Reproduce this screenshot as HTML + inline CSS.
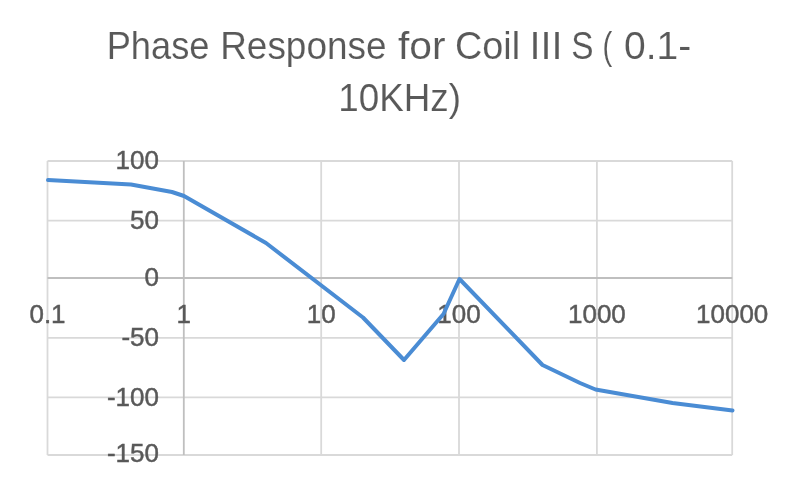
<!DOCTYPE html>
<html><head><meta charset="utf-8">
<style>
html,body{margin:0;padding:0;background:#fff;}
body{width:800px;height:490px;overflow:hidden;}
svg{display:block;filter:blur(0.35px);}
text{font-family:"Liberation Sans",sans-serif;fill:#595959;}
</style></head>
<body>
<svg width="800" height="490" viewBox="0 0 800 490">
<rect x="0" y="0" width="800" height="490" fill="#fff"/>
<g stroke="#d9d9d9" stroke-width="1.8" fill="none">
<line x1="47.5" y1="161" x2="732.2" y2="161"/>
<line x1="47.5" y1="220.6" x2="732.2" y2="220.6"/>
<line x1="47.5" y1="337.8" x2="732.2" y2="337.8"/>
<line x1="47.5" y1="397.4" x2="732.2" y2="397.4"/>
<line x1="47.5" y1="455" x2="732.2" y2="455"/>
<line x1="47.5" y1="161" x2="47.5" y2="455"/>
<line x1="321.2" y1="161" x2="321.2" y2="455"/>
<line x1="459" y1="161" x2="459" y2="455"/>
<line x1="596.9" y1="161" x2="596.9" y2="455"/>
<line x1="732.2" y1="161" x2="732.2" y2="455"/>
</g>
<g stroke="#bfbfbf" stroke-width="1.8" fill="none">
<line x1="47.5" y1="278" x2="732.2" y2="278"/>
<line x1="183.8" y1="161" x2="183.8" y2="455"/>
</g>
<g font-size="39" stroke="#fff" stroke-width="0.12">
<text transform="translate(106.7,59) scale(0.929,1)">Phase</text>
<text transform="translate(220.2,59) scale(0.947,1)">Response</text>
<text transform="translate(398,59) scale(1.045,1)">for</text>
<text transform="translate(455.1,59) scale(0.968,1)">Coil</text>
<text transform="translate(529.5,59) scale(1.02,1)">III</text>
<text transform="translate(571.3,59) scale(0.857,1)">S</text>
<text transform="translate(602.5,59) scale(0.75,1)">(</text>
<text transform="translate(624,59) scale(1,1)">0.1-</text>
<text transform="translate(338.2,111) scale(0.944,1)">10KHz)</text>
</g>
<g font-size="26" text-anchor="end" stroke="#595959" stroke-width="0.45">
<text x="159" y="169.2">100</text>
<text x="159" y="228.8">50</text>
<text x="159" y="286.2">0</text>
<text x="159" y="346">-50</text>
<text x="159" y="405.6">-100</text>
<text x="159" y="462.4">-150</text>
</g>
<g font-size="26" text-anchor="middle" stroke="#595959" stroke-width="0.45">
<text x="47.5" y="323">0.1</text>
<text x="183.8" y="323">1</text>
<text x="321.2" y="323">10</text>
<text x="459" y="323">100</text>
<text x="596.9" y="323">1000</text>
<text x="732.2" y="323">10000</text>
</g>
<polyline fill="none" stroke="#4a8cd4" stroke-width="4" stroke-linejoin="round" stroke-linecap="round"
 points="48,180 131,184.5 172,192 184,196 266,243 363,317.5 404,360 443.5,314 459.5,279 542.5,365 580,383 595.5,389.5 672.5,403 732.5,410.6"/>
</svg>
</body></html>
